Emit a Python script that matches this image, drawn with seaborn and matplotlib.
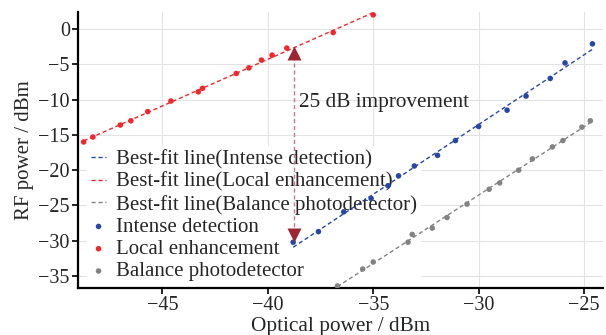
import numpy as np
import pandas as pd
import seaborn as sns
import matplotlib.pyplot as plt

# data
red_x = [-48.74, -48.3, -47.0, -46.5, -45.7, -44.6, -43.3, -43.1, -41.5, -40.9, -40.3, -39.8, -39.1, -36.9, -35.0]
red_y = [-16.0, -15.3, -13.6, -13.0, -11.7, -10.2, -8.9, -8.4, -6.3, -5.5, -4.4, -3.7, -2.7, -0.5, 2.0]

blue_x = [-38.8, -37.6, -36.4, -35.1, -34.3, -33.8, -33.05, -31.95, -31.1, -30.0, -28.65, -27.75, -26.6, -25.9, -24.6]
blue_y = [-30.2, -28.7, -25.9, -24.0, -22.2, -20.8, -19.4, -17.9, -15.8, -13.8, -11.5, -9.5, -7.0, -4.8, -2.1]

gray_x = [-36.7, -35.5, -35.0, -33.35, -33.15, -32.2, -31.5, -30.55, -29.5, -29.0, -28.1, -27.45, -26.5, -26.0, -25.1, -24.7]
gray_y = [-36.4, -34.0, -33.0, -30.2, -29.1, -28.2, -26.7, -24.8, -22.7, -21.8, -20.0, -18.4, -16.7, -15.8, -13.9, -13.0]

series = ["Intense detection", "Local enhancement", "Balance photodetector"]
colors = ["#2747a6", "#f2262b", "#838383"]
xs = [blue_x, red_x, gray_x]
ys = [blue_y, red_y, gray_y]

arrow_x = -38.75
arrow_top = -2.6
arrow_bottom = -30.2
note = "25 dB improvement"

sns.set_style("whitegrid")
plt.rcParams['font.family'] = ['Liberation Serif', 'DejaVu Serif']

fig = plt.figure(figsize=(6.06, 3.35), dpi=100)
ax = fig.add_axes([0.129, 0.140, 0.866, 0.824])

# best-fit lines
line_handles = []
for name, c, x, y in zip(series, colors, xs, ys):
    df = pd.DataFrame({"x": x, "y": y})
    sns.regplot(data=df, x="x", y="y", ax=ax, scatter=False, ci=None, truncate=True,
                line_kws=dict(color=c, lw=1.0, ls=(0, (3, 2)), zorder=3))
    ax.lines[-1].set_label(f"Best-fit line({name})")
    line_handles.append(ax.lines[-1])

# measured points
dot_handles = []
for name, c, x, y in zip(series, colors, xs, ys):
    df = pd.DataFrame({"x": x, "y": y})
    sns.scatterplot(data=df, x="x", y="y", ax=ax, color=c, s=16, edgecolor="none", zorder=4, label=name)
    dot_handles.append(ax.collections[-1])

# improvement arrow
ax.plot([arrow_x, arrow_x], [arrow_top - 1.2, arrow_bottom + 1.2], color="#c9788f", lw=1.0,
        ls=(0, (3, 2)), zorder=5)
ax.plot([arrow_x], [arrow_top - 0.8], marker="^", ms=10, color="#9e2633", mec="none", zorder=6)
ax.plot([arrow_x], [arrow_bottom + 1.0], marker="v", ms=10, color="#9e2633", mec="none", zorder=6)
ax.text(arrow_x + 0.25, -10.4, note, fontsize=15.3, va="center", ha="left", zorder=6)

ax.set_xlim(-49.0, -24.1)
ax.set_ylim(-36.7, 2.4)
ax.set_xticks([-45, -40, -35, -30, -25])
ax.set_yticks([0, -5, -10, -15, -20, -25, -30, -35])
ax.set_xlabel("Optical power / dBm", fontsize=15.3, labelpad=1)
ax.set_ylabel("RF power / dBm", fontsize=15, labelpad=3)
ax.tick_params(axis="both", labelsize=14.5, direction="out", length=4, width=1.2, color="black",
               bottom=True, left=True, pad=2)
ax.grid(True, color="#e3e3e3", lw=0.8, zorder=0)
ax.set_axisbelow(True)
for s in ["top", "right"]:
    ax.spines[s].set_visible(False)
for s in ["left", "bottom"]:
    ax.spines[s].set_color("black")
    ax.spines[s].set_linewidth(1.6)

leg = ax.legend(handles=line_handles + dot_handles, loc="upper left", bbox_to_anchor=(0.016, 0.515),
                fontsize=15, frameon=True, facecolor="white", edgecolor="none", framealpha=1,
                handlelength=0.75, handletextpad=0.45, labelspacing=0.13, borderpad=0.2,
                borderaxespad=0)
leg.set_zorder(2)

plt.savefig("out.png", dpi=100)
